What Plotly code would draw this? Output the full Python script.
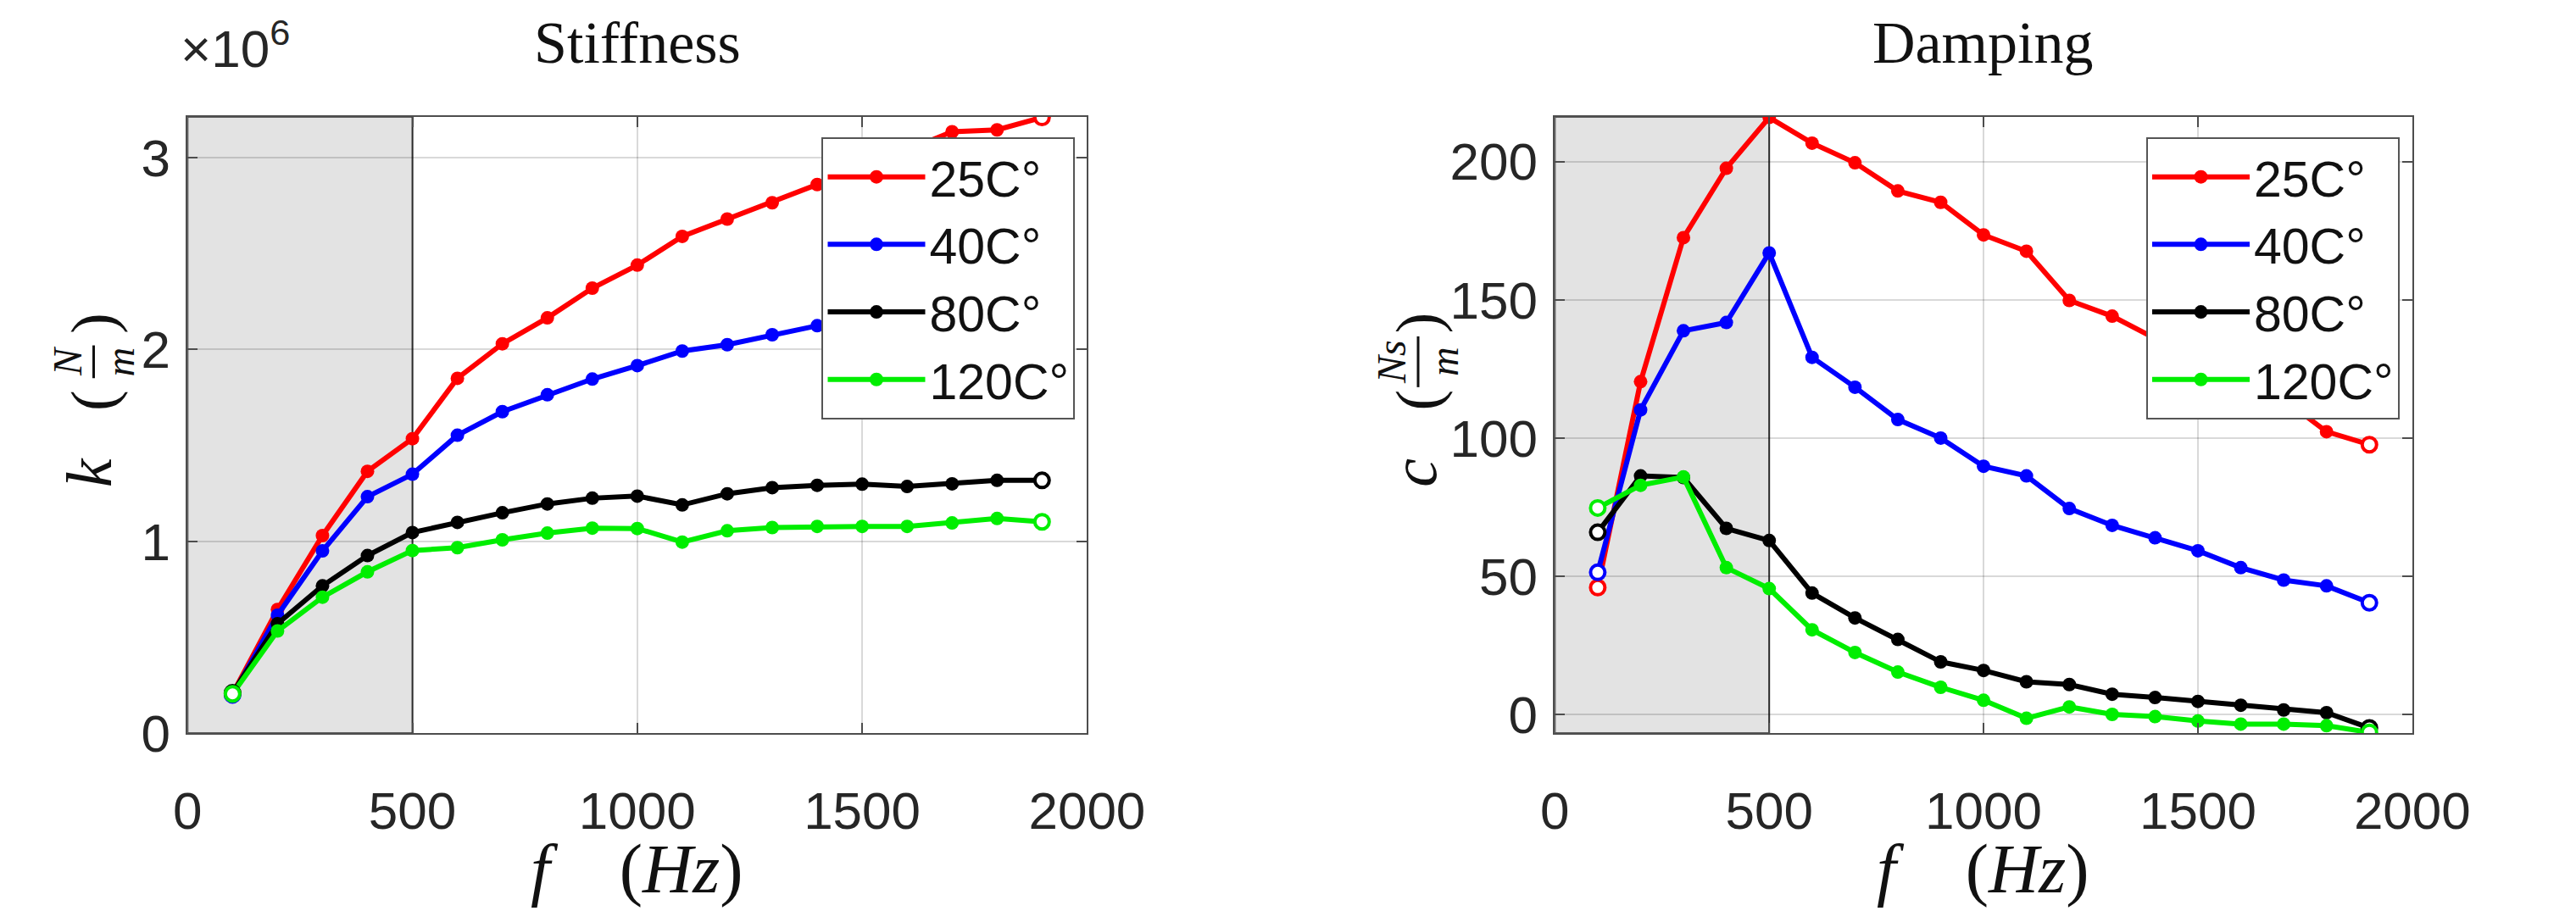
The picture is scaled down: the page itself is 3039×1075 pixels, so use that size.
import plotly.graph_objects as go
from plotly.subplots import make_subplots

# ---------------- data ----------------
freq = [100, 200, 300, 400, 500, 600, 700, 800, 900, 1000,
        1100, 1200, 1300, 1400, 1500, 1600, 1700, 1800, 1900]

series_names = ["25C°", "40C°", "80C°", "120C°"]
series_colors = ["#ff0000", "#0000ff", "#000000", "#00ee00"]

# Stiffness k, in units of 1e6 N/m
k_25 = [0.205, 0.645, 1.03, 1.365, 1.535, 1.85, 2.03, 2.165, 2.32, 2.44,
        2.59, 2.68, 2.765, 2.86, 2.95, 3.04, 3.135, 3.145, 3.21]
k_40 = [0.20, 0.615, 0.95, 1.233, 1.35, 1.553, 1.676, 1.764, 1.846, 1.916,
        1.992, 2.025, 2.077, 2.124, 2.16, 2.20, 2.23, 2.26, 2.28]
k_80 = [0.21, 0.571, 0.768, 0.926, 1.046, 1.099, 1.149, 1.195, 1.225, 1.236,
        1.19, 1.248, 1.28, 1.292, 1.298, 1.286, 1.30, 1.318, 1.318]
k_120 = [0.205, 0.533, 0.709, 0.841, 0.952, 0.967, 1.008, 1.043, 1.069, 1.067,
         0.996, 1.055, 1.072, 1.078, 1.078, 1.078, 1.096, 1.119, 1.102]

# Damping c, in N s / m
c_25 = [45.9, 120.4, 172.5, 197.6, 216.0, 206.7, 199.6, 189.4, 185.3, 173.5,
        167.6, 149.8, 144.1, 136.0, 128.0, 121.0, 114.0, 102.3, 97.6]
c_40 = [51.4, 110.2, 138.8, 141.8, 167.0, 129.2, 118.4, 106.7, 100.0, 89.8,
        86.3, 74.5, 68.4, 63.9, 59.2, 53.1, 48.6, 46.5, 40.4]
c_80 = [65.9, 86.3, 85.7, 67.3, 62.9, 43.9, 34.9, 27.1, 19.0, 15.9,
        11.8, 10.8, 7.3, 6.1, 4.7, 3.3, 1.6, 0.6, -4.9]
c_120 = [74.7, 82.9, 85.9, 53.1, 45.5, 30.6, 22.4, 15.3, 9.8, 5.1,
         -1.4, 2.7, 0.0, -0.8, -2.4, -3.5, -3.5, -4.1, -6.5]

k_series = [k_25, k_40, k_80, k_120]
c_series = [c_25, c_40, c_80, c_120]

x_ticks = [0, 500, 1000, 1500, 2000]
k_ticks = [0, 1, 2, 3]
c_ticks = [0, 50, 100, 150, 200]
shade_end = 500

# ---------------- figure ----------------
W, H = 3039, 1075
fig = make_subplots(rows=1, cols=2)

sans = "Liberation Sans, Arial, sans-serif"
serif = "Liberation Serif, Times New Roman, serif"
tick_font = dict(family=sans, size=62, color="#262626")

for col, (data, leg) in enumerate([(k_series, "legend"), (c_series, "legend2")], start=1):
    for name, color, vals in zip(series_names, series_colors, data):
        fig.add_trace(go.Scatter(
            x=freq, y=vals, mode="lines+markers", name=name,
            line=dict(color=color, width=6),
            marker=dict(color=color, size=16, symbol="circle"),
            legend=leg, showlegend=True,
        ), row=1, col=col)
    # hollow end markers
    for name, color, vals in zip(series_names, series_colors, data):
        fig.add_trace(go.Scatter(
            x=[freq[0], freq[-1]], y=[vals[0], vals[-1]], mode="markers",
            marker=dict(color="white", size=17, symbol="circle",
                        line=dict(color=color, width=4)),
            showlegend=False, hoverinfo="skip",
        ), row=1, col=col)

px_x = lambda p: p / W
px_y = lambda p: 1 - p / H

axis_common = dict(
    showline=True, linecolor="#4d4d4d", linewidth=2, mirror="ticks",
    ticks="inside", ticklen=12, tickwidth=2, tickcolor="#4d4d4d",
    showgrid=True, gridcolor="rgba(0,0,0,0.15)", gridwidth=2,
    zeroline=False, tickfont=tick_font,
)

fig.update_xaxes(**axis_common, range=[0, 2000], tickvals=x_ticks,
                 ticktext=[str(v) for v in x_ticks], ticklabelstandoff=36)
fig.update_xaxes(domain=[px_x(202), px_x(1294)], row=1, col=1)
fig.update_xaxes(domain=[px_x(1862), px_x(2903)], row=1, col=2)
fig.update_yaxes(**axis_common, ticklabelstandoff=6)
fig.update_yaxes(domain=[px_y(886), px_y(134)], range=[0, 3.214],
                 tickvals=k_ticks, ticktext=[str(v) for v in k_ticks], row=1, col=1)
fig.update_yaxes(domain=[px_y(886), px_y(134)], range=[-6.8, 216.3],
                 tickvals=c_ticks, ticktext=[str(v) for v in c_ticks], row=1, col=2)

# shaded region
for xr, yr in [("x", "y"), ("x2", "y2")]:
    fig.add_shape(type="rect", xref=xr, yref=f"{yr} domain", x0=0, x1=shade_end,
                  y0=0, y1=1, fillcolor="#e3e3e3", layer="below",
                  line=dict(color="#333333", width=2))

legend_common = dict(
    font=dict(family=sans, size=59, color="#111111"),
    bgcolor="white", bordercolor="#555555", borderwidth=2,
    xanchor="left", yanchor="top", itemwidth=115, tracegroupgap=0,
)
fig.update_layout(
    legend=dict(**legend_common, x=px_x(972), y=px_y(159)),
    legend2=dict(**legend_common, x=px_x(2580), y=px_y(159)),
)

ann = []
txt = "#111111"
# titles
ann.append(dict(text="Stiffness", x=px_x(748), y=px_y(44), font=dict(family=serif, size=70, color=txt)))
ann.append(dict(text="Damping", x=px_x(2382), y=px_y(44), font=dict(family=serif, size=70, color=txt)))
# exponent
ann.append(dict(text="×10<sup>6</sup>", x=px_x(192), y=px_y(46), xanchor="left",
                font=dict(family=sans, size=62, color="#262626")))
# x titles
for cx in (748, 2382):
    ann.append(dict(text="<i>f</i>\u00a0\u00a0\u00a0\u00a0(<i>Hz</i>)", x=px_x(cx), y=px_y(1052),
                    font=dict(family=serif, size=82, color=txt)))
# y titles: variable, then (numerator / denominator) built from pieces
ylab = [  # (axis x center px, variable, numerator, denominator, bar length px)
    (84, "k", "N", "m", 40),
    (1692, "c", "Ns", "m", 62),
]
for cx, var, num, den, bar in ylab:
    ann.append(dict(text=f"<i>{var}</i>", x=px_x(cx - 2), y=px_y(568), textangle=-90,
                    font=dict(family=serif, size=76, color=txt)))
    ann.append(dict(text=")", x=px_x(cx + 4), y=px_y(386), textangle=-90,
                    font=dict(family=serif, size=74, color=txt)))
    ann.append(dict(text="(", x=px_x(cx + 4), y=px_y(480), textangle=-90,
                    font=dict(family=serif, size=74, color=txt)))
    ann.append(dict(text=f"<i>{num}</i><br><i>{den}</i>", x=px_x(cx + 4), y=px_y(433), textangle=-90,
                    font=dict(family=serif, size=48, color=txt)))
    fig.add_shape(type="line", xref="paper", yref="paper",
                  x0=px_x(cx + 4), x1=px_x(cx + 4),
                  y0=px_y(433 - bar / 2), y1=px_y(433 + bar / 2),
                  line=dict(color=txt, width=3))
for a in ann:
    a.setdefault("xanchor", "center")
    a.update(xref="paper", yref="paper", showarrow=False, yanchor="middle", borderpad=0)
fig.update_layout(annotations=ann)

fig.update_layout(
    width=W, height=H, margin=dict(l=0, r=0, t=0, b=0),
    paper_bgcolor="white", plot_bgcolor="white",
)

fig.write_html("out.html")
